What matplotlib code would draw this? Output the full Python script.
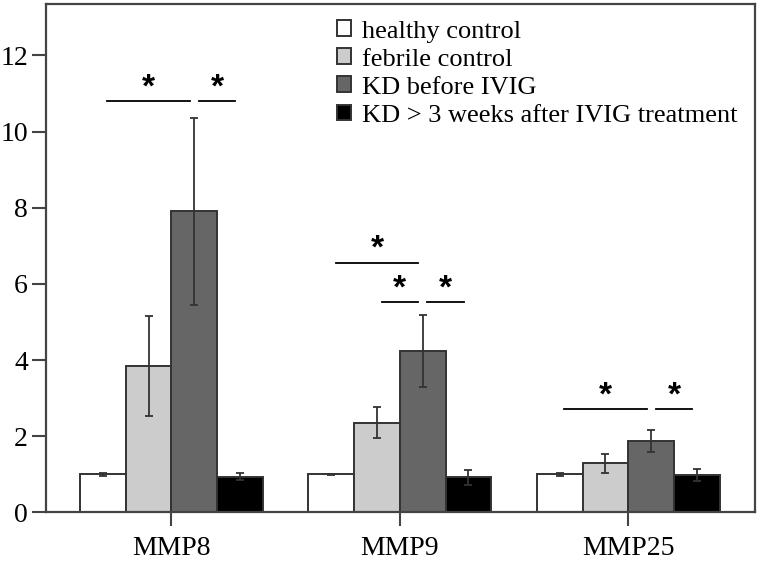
import numpy as np
import matplotlib
matplotlib.use("Agg")
import matplotlib.pyplot as plt

# data
genes = ["MMP8", "MMP9", "MMP25"]
groups = ["healthy control", "febrile control", "KD before IVIG",
          "KD > 3 weeks after IVIG treatment"]
healthy = [1.00, 1.00, 1.00]
febrile = [3.85, 2.36, 1.29]
kd_before = [7.91, 4.24, 1.88]
kd_after = [0.94, 0.92, 0.98]
err_healthy = [0.04, 0.02, 0.04]
err_febrile = [1.32, 0.41, 0.245]
err_kd_before = [2.45, 0.94, 0.285]
err_kd_after = [0.09, 0.19, 0.15]

# significance brackets: (gene index, bar from, bar to, height)
sig_gene = [0, 0, 1, 1, 1, 2, 2]
sig_from = [0, 2, 0, 1, 2, 0, 2]
sig_to = [2, 3, 2, 2, 3, 2, 3]
sig_y = [10.8, 10.8, 6.56, 5.53, 5.53, 2.72, 2.72]

values = [healthy, febrile, kd_before, kd_after]
errors = [err_healthy, err_febrile, err_kd_before, err_kd_after]
colors = ["white", "#cccccc", "#666666", "black"]

plt.rcParams['font.family'] = ['Liberation Serif', 'DejaVu Serif']

fig = plt.figure(figsize=(7.63, 5.61), dpi=100)
ax = fig.add_axes([0.0603, 0.0865, 0.929, 0.9064])

x = np.arange(len(genes))
w = 0.2
offs = [-0.3, -0.1, 0.1, 0.3]

for k in range(4):
    ax.bar(x + offs[k], values[k], w, color=colors[k], edgecolor="#333333",
           linewidth=1.4, label=groups[k], zorder=2)
    ax.errorbar(x + offs[k], values[k], yerr=errors[k], fmt="none",
                ecolor="#333333", elinewidth=1.3, capsize=3, capthick=1.3,
                zorder=3)

# significance lines and stars
g = 0.02
for gi, i, j, yy in zip(sig_gene, sig_from, sig_to, sig_y):
    x0 = gi + offs[i] + g
    x1 = gi + offs[j] - g
    ax.plot([x0, x1], [yy, yy], color="black", lw=1.3, zorder=3)
    ax.text((x0 + x1) / 2, yy + 0.12, "*", ha="center", va="baseline",
            fontsize=24, fontweight="bold", family="Liberation Sans")

ax.set_xlim(-0.549, 2.554)
ax.set_ylim(0, 13.35)
ax.set_xticks(x)
ax.set_xticklabels(genes)
ax.set_yticks(np.arange(0, 13, 2))
ax.tick_params(axis="both", labelsize=20, length=10, width=1.5,
               color="#444444", direction="out")
ax.tick_params(axis="y", pad=3)
ax.tick_params(axis="x", pad=7)
for s in ax.spines.values():
    s.set_linewidth(1.6)
    s.set_color("#444444")

ax.legend(loc="upper left", bbox_to_anchor=(0.41, 0.968), frameon=False,
          fontsize=19, handlelength=0.55, handleheight=0.55,
          handletextpad=0.42, labelspacing=0.22, borderpad=0,
          borderaxespad=0)

fig.savefig("out.png", dpi=100)
